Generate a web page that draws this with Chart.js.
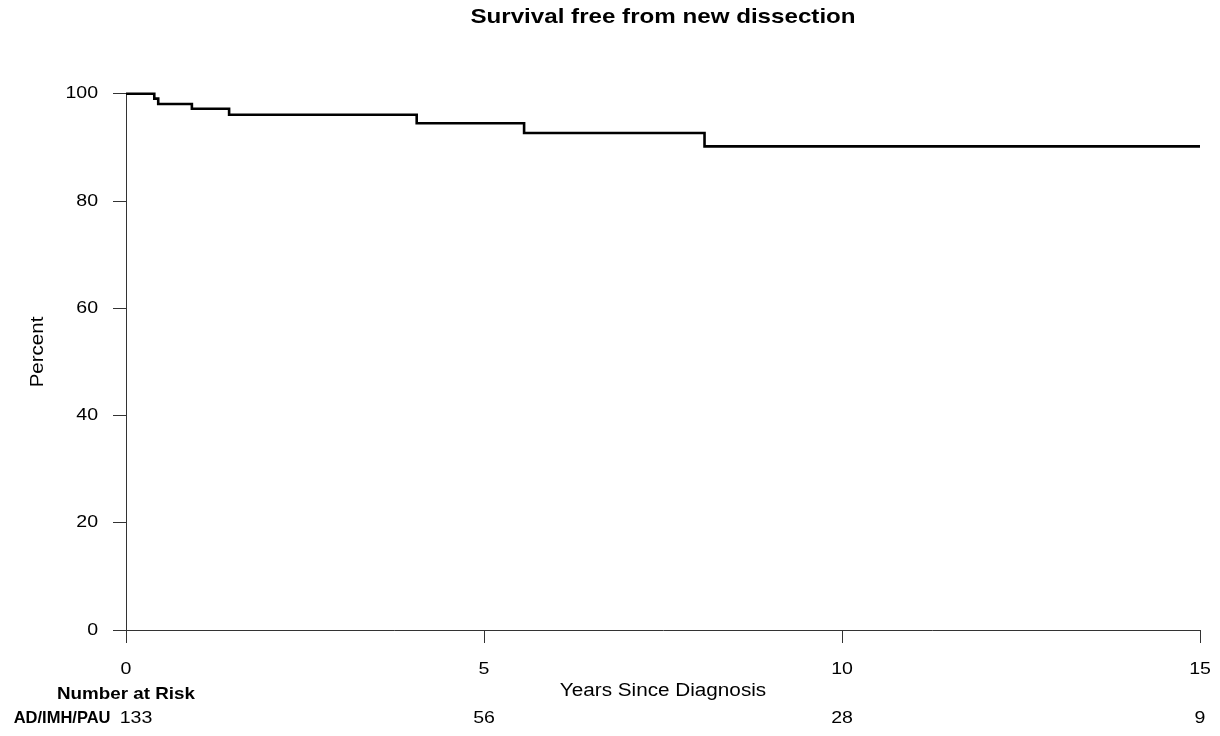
<!DOCTYPE html>
<html><head><meta charset="utf-8">
<script src="https://cdn.jsdelivr.net/npm/chart.js@4.4.1/dist/chart.umd.min.js"></script>
<style>html,body{margin:0;padding:0;background:#fff;}#wrap{width:1220px;height:736px;}</style>
</head><body><div id="wrap"><canvas id="c" width="1220" height="736"></canvas></div>
<script>
// ---- data ----
const years    = [0, 0.395, 0.45, 0.92, 1.44, 4.06, 5.56, 8.08, 15];
const survival = [100, 99.1, 98.1, 97.2, 96.1, 94.5, 92.7, 90.2, 90.2];
const xTicks = [0, 5, 10, 15];
const yTicks = [0, 20, 40, 60, 80, 100];
const riskTimes  = [0, 5, 10, 15];
const riskCounts = [133, 56, 28, 9];
const groupName = 'AD/IMH/PAU';
const titleText = 'Survival free from new dissection';
const xTitle = 'Years Since Diagnosis';
const yTitle = 'Percent';

const FAM = "'Liberation Sans', Arial, Helvetica, sans-serif";
const SX = 1.15;

const stretch = {
  id: 'stretch',
  beforeInit(chart) {
    const ctx = chart.ctx;
    const orig = ctx.fillText;
    ctx.sx = SX;
    ctx.fillText = function (t, x, y, mw) {
      const sx = this.sx || 1;
      this.save();
      this.translate(x, y);
      this.scale(sx, 1);
      if (mw === undefined) orig.call(this, t, 0, 0); else orig.call(this, t, 0, 0, mw / sx);
      this.restore();
    };
  }
};

const extraText = {
  id: 'extraText',
  afterDraw(chart) {
    const ctx = chart.ctx, xs = chart.scales.x;
    ctx.save();
    ctx.fillStyle = '#000';
    ctx.textBaseline = 'middle';
    // y-axis title
    ctx.save();
    ctx.font = '18px ' + FAM;
    ctx.sx = 1.14;
    ctx.textAlign = 'center';
    ctx.translate(38.4, 352);
    ctx.rotate(-Math.PI / 2);
    ctx.fillText(yTitle, 0, 0);
    ctx.restore();
    // risk table
    ctx.font = 'bold 16.5px ' + FAM;
    ctx.sx = 1.14;
    ctx.textAlign = 'center';
    ctx.fillText('Number at Risk', xs.getPixelForValue(0), 694);
    ctx.sx = 1.0;
    ctx.textAlign = 'right';
    ctx.fillText(groupName, 110.5, 718.5);
    ctx.font = '17px ' + FAM;
    ctx.sx = SX;
    ctx.textAlign = 'center';
    riskTimes.forEach((t, i) => {
      let px = xs.getPixelForValue(t);
      if (i === 0) px += 10;
      ctx.fillText(String(riskCounts[i]), px, 718.5);
    });
    ctx.restore();
    ctx.sx = SX;
  }
};

const axisColor = '#333';

new Chart(document.getElementById('c'), {
  type: 'line',
  data: {
    datasets: [{
      data: years.map((x, i) => ({ x: x, y: survival[i] })),
      borderColor: '#000',
      borderWidth: 2.6,
      pointRadius: 0,
      stepped: true,
      fill: false,
      clip: false
    }]
  },
  options: {
    responsive: false,
    animation: false,
    events: [],
    layout: { padding: { top: 0, right: 20, bottom: 0, left: 0 } },
    plugins: {
      legend: { display: false },
      tooltip: { enabled: false },
      title: {
        display: true, text: titleText, fullSize: false, color: '#000',
        font: { family: FAM, size: 21, weight: 'bold' },
        padding: { top: 5, bottom: 63.6 }
      }
    },
    scales: {
      x: {
        type: 'linear', min: 0, max: 15,
        afterFit(s) { s.height = 106; s.paddingRight = 0; s.paddingLeft = 0; },
        afterBuildTicks(s) { s.ticks = xTicks.map(v => ({ value: v })); },
        ticks: { color: '#000', font: { family: FAM, size: 17 }, padding: 16.5, maxRotation: 0, autoSkip: false },
        grid: { drawOnChartArea: false, drawTicks: true, tickLength: 13, color: axisColor, lineWidth: 1 },
        border: { display: true, color: axisColor, width: 1 },
        title: { display: true, text: xTitle, color: '#000', font: { family: FAM, size: 18 }, padding: { top: 0, bottom: 34 } }
      },
      y: {
        type: 'linear', min: 0, max: 100,
        afterFit(s) { s.width = 126; s.paddingTop = 0; s.paddingBottom = 0; },
        afterBuildTicks(s) { s.ticks = yTicks.map(v => ({ value: v })); },
        ticks: { color: '#000', font: { family: FAM, size: 17 }, padding: 15 },
        grid: { drawOnChartArea: false, drawTicks: true, tickLength: 13, color: axisColor, lineWidth: 1 },
        border: { display: true, color: axisColor, width: 1 },
        title: { display: false }
      }
    }
  },
  plugins: [stretch, extraText]
});
</script>
</body></html>
